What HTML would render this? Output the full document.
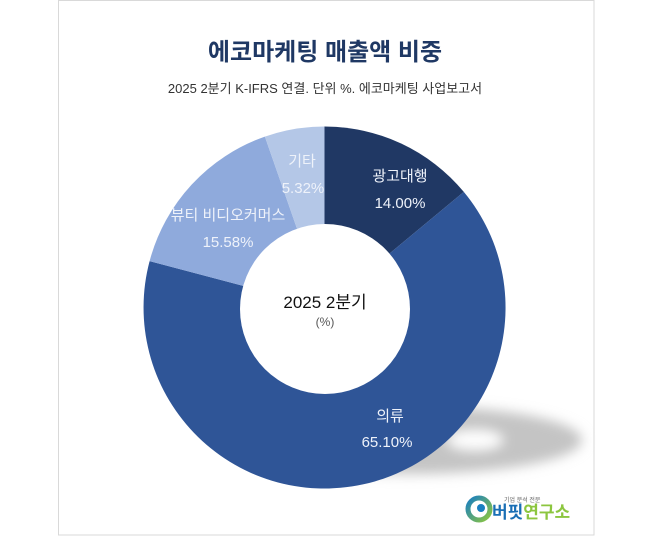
<!DOCTYPE html>
<html><head><meta charset="utf-8"><style>
body{margin:0;background:#fff;width:650px;height:537px;overflow:hidden;font-family:"Liberation Sans","Noto Sans CJK KR",sans-serif;}
</style></head><body>
<svg width="650" height="537" viewBox="0 0 650 537" xmlns="http://www.w3.org/2000/svg" style="position:absolute;left:0;top:0">
<defs>
<filter id="b" x="-30%" y="-100%" width="160%" height="300%"><feGaussianBlur stdDeviation="6"/></filter>
<linearGradient id="lg" x1="0" y1="0" x2="1" y2="1"><stop offset="0" stop-color="#1a7fc1"/><stop offset="1" stop-color="#8cc63f"/></linearGradient>
</defs>
<rect x="58.5" y="0.5" width="535.5" height="534.5" fill="#fff" stroke="#d9d9d9"/>
<text x="325" y="60" text-anchor="middle" font-size="24" font-weight="bold" fill="#1f3864" font-family="Liberation Sans,Noto Sans CJK KR,sans-serif">에코마케팅 매출액 비중</text>
<text x="325" y="93" text-anchor="middle" font-size="13" fill="#333" font-family="Liberation Sans,Noto Sans CJK KR,sans-serif">2025 2분기 K-IFRS 연결. 단위 %. 에코마케팅 사업보고서</text>
<g filter="url(#b)">
<ellipse cx="410" cy="440" rx="172" ry="34" fill="#c4c4c4"/>
<ellipse cx="475" cy="440" rx="28" ry="10" fill="#fff"/>
</g>
<g transform="translate(324.5,307.5)">
<path d="M0,-181 A181,181 0 0 1 139.3,-115.6 L0,0Z" fill="#203864"/>
<path d="M139.3,-115.6 A181,181 0 1 1 -174.9,-46.4 L0,0Z" fill="#2f5597"/>
<path d="M-174.9,-46.4 A181,181 0 0 1 -59.6,-170.9 L0,0Z" fill="#8faadc"/>
<path d="M-59.6,-170.9 A181,181 0 0 1 0,-181 L0,0Z" fill="#b4c7e7"/>
</g>
<circle cx="325" cy="309" r="85" fill="#fff"/>
<g font-family="Liberation Sans,Noto Sans CJK KR,sans-serif" font-size="15" fill="#eef2fa" text-anchor="middle">
<text x="400" y="181">광고대행</text><text x="400" y="208">14.00%</text>
<text x="302" y="166">기타</text><text x="303" y="193">5.32%</text>
<text x="228" y="220">뷰티 비디오커머스</text><text x="228" y="247">15.58%</text>
<text x="390" y="421">의류</text><text x="387" y="447">65.10%</text>
</g>
<text x="325" y="308" text-anchor="middle" font-size="17" fill="#111" font-family="Liberation Sans,Noto Sans CJK KR,sans-serif">2025 2분기</text>
<text x="325" y="326" text-anchor="middle" font-size="12" fill="#555" font-family="Liberation Sans,Noto Sans CJK KR,sans-serif">(%)</text>
<circle cx="479" cy="509" r="11" fill="none" stroke="url(#lg)" stroke-width="5"/>
<circle cx="481" cy="508" r="4" fill="#1a7fc1"/>
<text x="504" y="502" font-size="6" fill="#666" font-family="Liberation Sans,Noto Sans CJK KR,sans-serif">기업 분석 전문</text>
<text x="492" y="518" font-size="17" font-weight="bold" fill="#1a6fb5" font-family="Liberation Sans,Noto Sans CJK KR,sans-serif">버핏<tspan fill="#8cc63f">연구소</tspan></text>
</svg>
</body></html>
